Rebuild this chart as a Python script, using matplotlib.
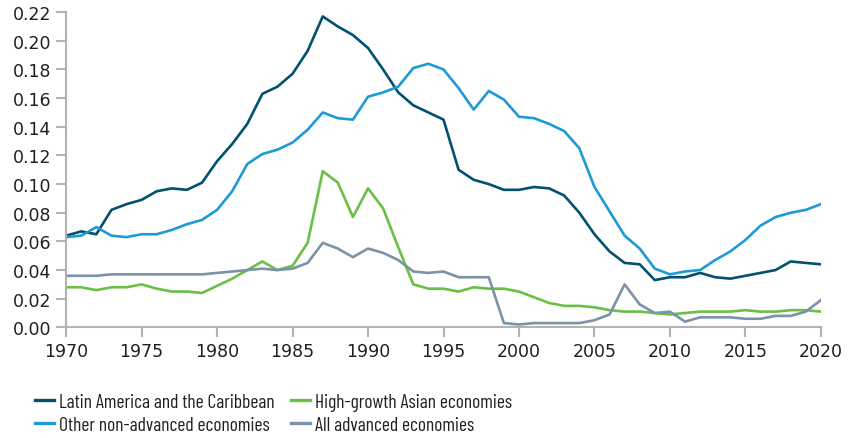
import matplotlib
matplotlib.use("Agg")
import matplotlib.pyplot as plt

years = list(range(1970, 2021))

latin_america = [0.064, 0.067, 0.065, 0.082, 0.086, 0.089, 0.095, 0.097, 0.096, 0.101,
                 0.116, 0.128, 0.142, 0.163, 0.168, 0.177, 0.193, 0.217, 0.210, 0.204,
                 0.195, 0.180, 0.164, 0.155, 0.150, 0.145, 0.110, 0.103, 0.100, 0.096,
                 0.096, 0.098, 0.097, 0.092, 0.080, 0.065, 0.053, 0.045, 0.044, 0.033,
                 0.035, 0.035, 0.038, 0.035, 0.034, 0.036, 0.038, 0.040, 0.046, 0.045,
                 0.044]
other_nonadv = [0.063, 0.064, 0.070, 0.064, 0.063, 0.065, 0.065, 0.068, 0.072, 0.075,
                0.082, 0.095, 0.114, 0.121, 0.124, 0.129, 0.138, 0.150, 0.146, 0.145,
                0.161, 0.164, 0.168, 0.181, 0.184, 0.180, 0.167, 0.152, 0.165, 0.159,
                0.147, 0.146, 0.142, 0.137, 0.125, 0.098, 0.081, 0.064, 0.055, 0.041,
                0.037, 0.039, 0.040, 0.047, 0.053, 0.061, 0.071, 0.077, 0.080, 0.082,
                0.086]
asian = [0.028, 0.028, 0.026, 0.028, 0.028, 0.030, 0.027, 0.025, 0.025, 0.024,
         0.029, 0.034, 0.040, 0.046, 0.040, 0.043, 0.059, 0.109, 0.101, 0.077,
         0.097, 0.083, 0.056, 0.030, 0.027, 0.027, 0.025, 0.028, 0.027, 0.027,
         0.025, 0.021, 0.017, 0.015, 0.015, 0.014, 0.012, 0.011, 0.011, 0.010,
         0.009, 0.010, 0.011, 0.011, 0.011, 0.012, 0.011, 0.011, 0.012, 0.012,
         0.011]
advanced = [0.036, 0.036, 0.036, 0.037, 0.037, 0.037, 0.037, 0.037, 0.037, 0.037,
            0.038, 0.039, 0.040, 0.041, 0.040, 0.041, 0.045, 0.059, 0.055, 0.049,
            0.055, 0.052, 0.047, 0.039, 0.038, 0.039, 0.035, 0.035, 0.035, 0.003,
            0.002, 0.003, 0.003, 0.003, 0.003, 0.005, 0.009, 0.030, 0.016, 0.010,
            0.011, 0.004, 0.007, 0.007, 0.007, 0.006, 0.006, 0.008, 0.008, 0.011,
            0.019]

yticks = [i * 0.02 for i in range(12)]
xticks = list(range(1970, 2021, 5))

plt.rcParams['font.family'] = ['DejaVu Sans']

fig = plt.figure(figsize=(8.48, 4.39), dpi=100)
ax = fig.add_axes([0.078, 0.252, 0.89, 0.718])

lw = 1.9
l1, = ax.plot(years, latin_america, color='#03506f', lw=lw, label='Latin America and the Caribbean')
l2, = ax.plot(years, asian, color='#6abf45', lw=lw, label='High-growth Asian economies')
l3, = ax.plot(years, other_nonadv, color='#1e9ad6', lw=lw, label='Other non-advanced economies')
l4, = ax.plot(years, advanced, color='#7b92a9', lw=lw, label='All advanced economies')

ax.set_xlim(1970, 2020)
ax.set_ylim(0, 0.22)
ax.set_xticks(xticks)
ax.set_yticks(yticks)
ax.set_yticklabels([f"{v:.2f}" for v in yticks])

for s in ['top', 'right']:
    ax.spines[s].set_visible(False)
for s in ['left', 'bottom']:
    ax.spines[s].set_color('#b3b3b3')
    ax.spines[s].set_linewidth(1.5)
ax.tick_params(colors='#b3b3b3', width=1.5, length=7, labelsize=12.5, labelcolor='#231f20')

# matplotlib fills legend columns first, so reorder to get the reference rows
leg = fig.legend(handles=[l1, l3, l2, l4], loc='upper left', bbox_to_anchor=(0.0413, 0.103),
                 ncol=2, frameon=False, handlelength=1.0, handletextpad=0.25,
                 columnspacing=0.8, labelspacing=0.25, borderaxespad=0, borderpad=0,
                 prop={'family': ['Barlow Condensed', 'Barlow Semi Condensed', 'DejaVu Sans'],
                       'size': 14})
for t in leg.get_texts():
    t.set_color('#231f20')
for h in leg.legend_handles:
    h.set_linewidth(2.4)

fig.savefig('out.png', dpi=100)
